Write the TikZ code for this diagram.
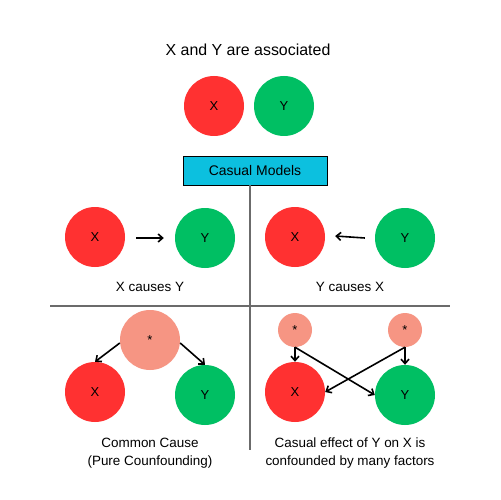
\documentclass[tikz,border=0pt]{standalone}
\usepackage{fontspec}
\setmainfont{Liberation Sans}
\usetikzlibrary{arrows.meta}
\definecolor{cred}{HTML}{FF3131}
\definecolor{cgreen}{HTML}{00BF63}
\definecolor{csalmon}{HTML}{F69583}
\definecolor{ccyan}{HTML}{0CC0DF}
\definecolor{cgray}{HTML}{6B6B6B}
\tikzset{
  big/.style={circle,minimum size=60bp,inner sep=0pt,font=\fontsize{13}{15}\selectfont},
  xn/.style={big,fill=cred},
  yn/.style={big,fill=cgreen},
  cn/.style={big,fill=csalmon},
  sn/.style={circle,fill=csalmon,minimum size=34bp,inner sep=0pt,font=\fontsize{13}{15}\selectfont},
  lbl/.style={font=\fontsize{13.5}{18}\selectfont,align=center},
  arr/.style={-{Straight Barb[length=4.5bp,width=8bp]},line width=1.6bp,black},
  sep/.style={draw=cgray,line width=1.5bp}
}
\begin{document}
\begin{tikzpicture}[x=1bp,y=-1bp]
\useasboundingbox (0,0) rectangle (500,500);
\fill[white] (0,0) rectangle (500,500);
\node[font=\fontsize{16}{18}\selectfont] (title) at (248,50) {X and Y are associated};
\node[xn] (tx) at (214,106) {X};
\node[yn] (ty) at (284,106) {Y};
\node[draw=black,fill=ccyan,line width=0.8bp,minimum width=144bp,minimum height=29bp,inner sep=0pt,font=\fontsize{14}{16}\selectfont] (cm) at (255,170.5) {Casual Models};
\coordinate (vb) at (250,450);
\coordinate (hl) at (50,306);
\coordinate (hr) at (450,306);
\draw[sep] (250,185) -- (vb);
\draw[sep] (hl) -- (hr);
% middle left
\node[xn] (ax) at (95,237) {X};
\node[yn] (ay) at (205,238) {Y};
\draw[arr] (ax.east) ++(11,1) coordinate (a1) -- ([xshift=-11bp]ay.west);
\node[lbl] (al) at (150,287) {X causes Y};
% middle right
\node[xn] (bx) at (295,237) {X};
\node[yn] (by) at (405,238) {Y};
\draw[arr] ([xshift=-10bp]by.west) -- ([xshift=10bp,yshift=1bp]bx.east);
\node[lbl] (bl) at (350,287) {Y causes X};
% bottom left
\node[cn] (cc) at (150,340) {*};
\node[xn] (cx) at (95,392) {X};
\node[yn] (cy) at (205,395) {Y};
\draw[arr] (cc.west) ++(0,3) -- (cx.north);
\draw[arr] (cc.east) ++(0,3) -- (cy.north);
\node[lbl] (cl) at (150,453) {Common Cause\\(Pure Counfounding)};
% bottom right
\node[sn] (s1) at (295,330) {*};
\node[sn] (s2) at (405,330) {*};
\node[xn] (dx) at (295,392) {X};
\node[yn] (dy) at (405,395) {Y};
\draw[arr] (s1.south) -- (dx.north);
\draw[arr] (s2.south) -- (dy.north);
\draw[arr] (s1.south) -- (dy.west);
\draw[arr] (s2.south) -- (dx.east);
\node[lbl] (dl) at (350,453) {Casual effect of Y on X is\\confounded by many factors};
\end{tikzpicture}
\end{document}
